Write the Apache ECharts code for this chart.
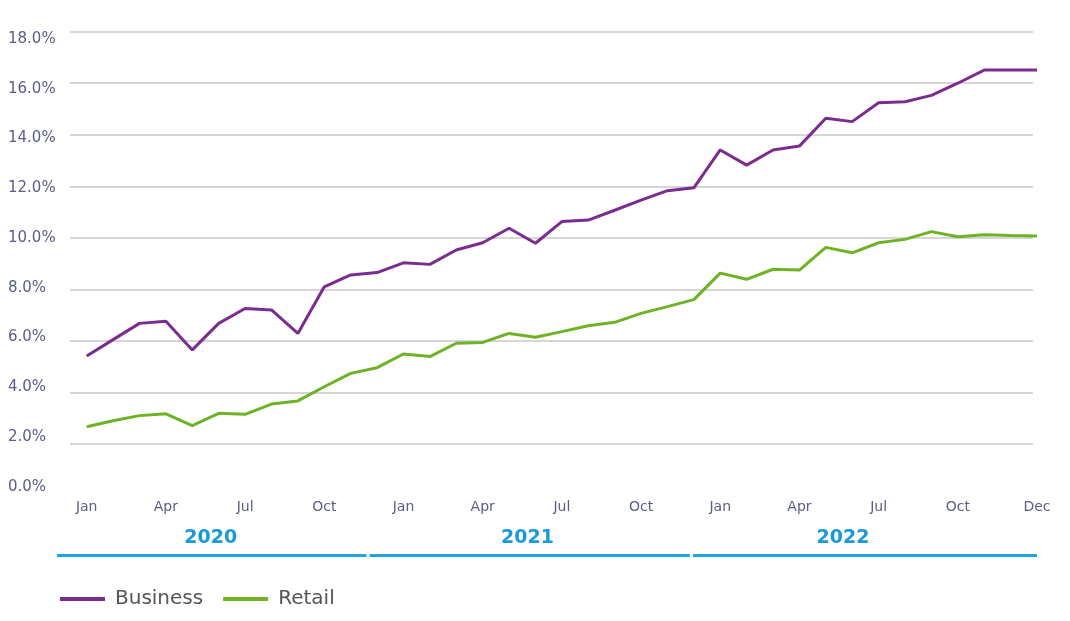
<!DOCTYPE html>
<html>
<head>
<meta charset="utf-8">
<script src="https://cdn.jsdelivr.net/npm/echarts@6/dist/echarts.min.js"></script>
<style>
html,body{margin:0;padding:0;background:#fff;}
#chart{width:1070px;height:621px;}
</style>
</head>
<body>
<div id="chart"></div>
<script>
// ---- data ----
const categories = [
  'Jan','Feb','Mar','Apr','May','Jun','Jul','Aug','Sep','Oct','Nov','Dec',
  'Jan','Feb','Mar','Apr','May','Jun','Jul','Aug','Sep','Oct','Nov','Dec',
  'Jan','Feb','Mar','Apr','May','Jun','Jul','Aug','Sep','Oct','Nov','Dec','Dec'
];
const business = [
  5.41, 6.05, 6.68, 6.76, 5.65, 6.68, 7.26, 7.20, 6.29, 8.10, 8.56, 8.65,
  9.03, 8.97, 9.53, 9.81, 10.37, 9.79, 10.63, 10.69, 11.07, 11.46, 11.83, 11.94,
  13.41, 12.82, 13.41, 13.56, 14.64, 14.51, 15.24, 15.28, 15.53, 16.00, 16.51, 16.51, 16.51
];
const retail = [
  2.67, 2.90, 3.10, 3.17, 2.71, 3.19, 3.15, 3.55, 3.67, 4.22, 4.74, 4.96,
  5.49, 5.39, 5.91, 5.94, 6.29, 6.14, 6.36, 6.59, 6.72, 7.07, 7.33, 7.60,
  8.63, 8.39, 8.78, 8.75, 9.63, 9.42, 9.81, 9.94, 10.24, 10.04, 10.12, 10.09, 10.07
];
const seriesNames = ['Business', 'Retail'];
const yearNames = ['2020', '2021', '2022'];
const yMin = 0, yMax = 18, yStep = 2;

// ---- layout (category-index units for year brackets) ----
const yearLayout = [
  {from: -1.12, to: 10.6, mid: 4.7},
  {from: 10.72, to: 22.85, mid: 16.7},
  {from: 22.97, to: 36.0, mid: 28.65}
];

const chart = echarts.init(document.getElementById('chart'));
const FONT = 'DejaVu Sans';
const axisText = '#5a5e84';

chart.setOption({
  animation: false,
  textStyle: {fontFamily: FONT},
  grid: [
    {left: 70, right: 37, top: 31.7, bottom: 125.5},   // gridlines
    {left: 86.7, right: 33, top: 31.7, bottom: 125.5}, // data
    {left: 70, right: 37, top: 39, bottom: 134.3}      // y labels
  ],
  xAxis: [
    {gridIndex: 0, type: 'category', data: categories, boundaryGap: false, show: false},
    {gridIndex: 1, type: 'category', data: categories, boundaryGap: false,
     axisLine: {show: false}, axisTick: {show: false}, splitLine: {show: false},
     axisLabel: {interval: 2, color: axisText, fontSize: 14, fontFamily: FONT, margin: 5}},
    {gridIndex: 2, type: 'category', data: categories, show: false}
  ],
  yAxis: [
    {gridIndex: 0, type: 'value', min: yMin, max: yMax, interval: yStep,
     axisLine: {show: false}, axisTick: {show: false}, axisLabel: {show: false},
     splitLine: {show: true, showMinLine: false, lineStyle: {color: '#c9c9c9', width: 1.6}}},
    {gridIndex: 1, type: 'value', min: yMin, max: yMax, interval: yStep, show: false},
    {gridIndex: 2, type: 'value', min: yMin, max: yMax, interval: yStep,
     axisLine: {show: false}, axisTick: {show: false}, splitLine: {show: false},
     axisLabel: {align: 'left', margin: 62, color: axisText, fontSize: 15, fontFamily: FONT,
       formatter: v => v.toFixed(1) + '%'}}
  ],
  legend: {
    data: seriesNames,
    left: 55, top: 584,
    icon: 'rect', itemWidth: 45, itemHeight: 4, itemGap: 20,
    textStyle: {fontSize: 20, color: '#555', fontFamily: FONT, padding: [0, 0, 0, 5]}
  },
  series: [
    {name: seriesNames[0], type: 'line', xAxisIndex: 1, yAxisIndex: 1, data: business,
     symbol: 'none', color: '#7b2d8f', lineStyle: {width: 3, color: '#7b2d8f'}},
    {name: seriesNames[1], type: 'line', xAxisIndex: 1, yAxisIndex: 1, data: retail,
     symbol: 'none', color: '#6db325', lineStyle: {width: 3, color: '#6db325'}}
  ]
});

// year brackets, positioned via the axis scale
const x0 = chart.convertToPixel({xAxisIndex: 1}, 0);
const xN = chart.convertToPixel({xAxisIndex: 1}, categories.length - 1);
const step = (xN - x0) / (categories.length - 1);
const baseY = chart.convertToPixel({yAxisIndex: 1}, 0);
const px = i => x0 + step * i;
const graphics = [];
yearNames.forEach((name, k) => {
  const L = yearLayout[k];
  graphics.push({
    type: 'text', silent: true,
    style: {text: name, x: px(L.mid), y: baseY + 43, align: 'center', verticalAlign: 'middle',
      fill: '#1a9ad6', fontSize: 19, fontWeight: 'bold', fontFamily: FONT}
  });
  graphics.push({
    type: 'line', silent: true,
    shape: {x1: px(L.from), y1: baseY + 60, x2: px(L.to), y2: baseY + 60},
    style: {stroke: '#1ea5e0', lineWidth: 3}
  });
});
chart.setOption({graphic: graphics});
</script>
</body>
</html>
